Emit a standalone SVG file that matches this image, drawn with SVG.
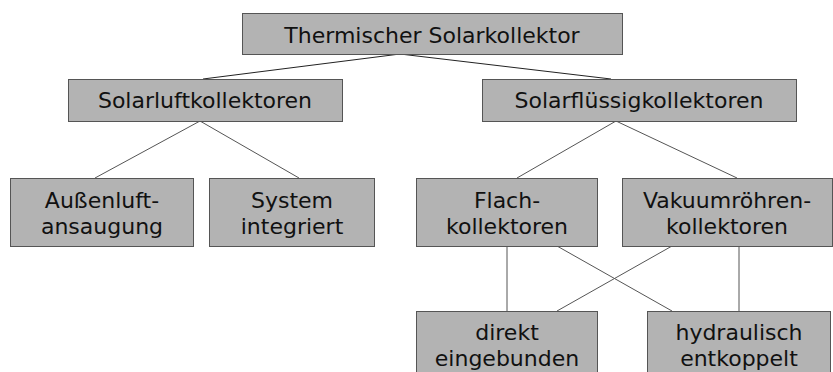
<svg xmlns="http://www.w3.org/2000/svg" width="833" height="372" viewBox="0 0 833 372">
<style>
.box{fill:#b3b3b3;stroke:#555;stroke-width:1}
.t{font-family:"DejaVu Sans",sans-serif;font-size:22px;fill:#111;text-anchor:middle}
.c{stroke:#555;stroke-width:1;fill:none}
.ct{stroke:#222;stroke-width:1;fill:none}
</style>
<rect width="833" height="372" fill="#fff"/>
<g id="connectors">
<line class="ct" x1="400" y1="54" x2="203" y2="79"/>
<line class="ct" x1="400" y1="54" x2="611" y2="79"/>
<line class="c" x1="200" y1="121" x2="95" y2="178"/>
<line class="c" x1="200" y1="121" x2="299" y2="178"/>
<line class="c" x1="616" y1="121" x2="517" y2="178"/>
<line class="c" x1="616" y1="121" x2="737" y2="178"/>
<line class="c" x1="507" y1="246" x2="507" y2="311"/>
<line class="c" x1="739" y1="246" x2="739" y2="311"/>
<line class="c" x1="557" y1="246" x2="672" y2="311"/>
<line class="c" x1="672" y1="246" x2="557" y2="311"/>
</g>
<g id="n-top"><rect class="box" x="242.5" y="13.5" width="380" height="41"/><text class="t" x="432" y="43">Thermischer Solarkollektor</text></g>
<g id="n-luft"><rect class="box" x="68.5" y="79.5" width="274" height="42"/><text class="t" x="205" y="108">Solarluftkollektoren</text></g>
<g id="n-fluessig"><rect class="box" x="482.5" y="79.5" width="314" height="42"/><text class="t" x="639" y="108">Solarflüssigkollektoren</text></g>
<g id="n-aussen"><rect class="box" x="10.5" y="178.5" width="183" height="68"/><text class="t" x="102" y="208">Außenluft-</text><text class="t" x="102" y="234">ansaugung</text></g>
<g id="n-system"><rect class="box" x="209.5" y="178.5" width="165" height="68"/><text class="t" x="292" y="208">System</text><text class="t" x="292" y="234">integriert</text></g>
<g id="n-flach"><rect class="box" x="416.5" y="178.5" width="181" height="68"/><text class="t" x="507" y="208">Flach-</text><text class="t" x="507" y="234">kollektoren</text></g>
<g id="n-vakuum"><rect class="box" x="622.5" y="178.5" width="210" height="68"/><text class="t" x="727" y="208">Vakuumröhren-</text><text class="t" x="727" y="234">kollektoren</text></g>
<g id="n-direkt"><rect class="box" x="416.5" y="311.5" width="181" height="70"/><text class="t" x="507" y="340">direkt</text><text class="t" x="507" y="366">eingebunden</text></g>
<g id="n-hydraulisch"><rect class="box" x="647.5" y="311.5" width="183" height="70"/><text class="t" x="739" y="340">hydraulisch</text><text class="t" x="739" y="366">entkoppelt</text></g>
</svg>
